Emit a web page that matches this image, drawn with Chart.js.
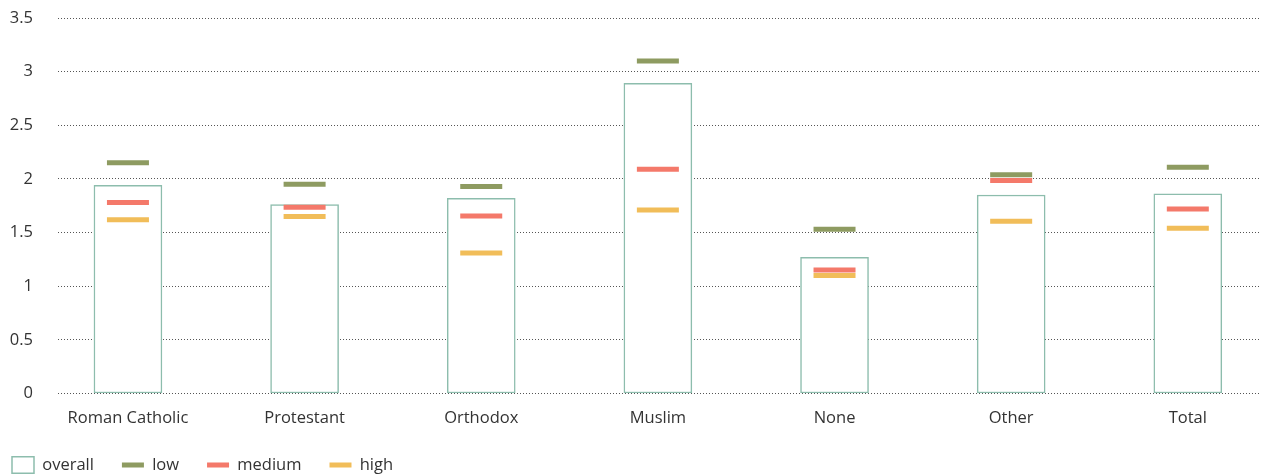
<!DOCTYPE html>
<html>
<head>
<meta charset="utf-8">
<script src="https://cdn.jsdelivr.net/npm/chart.js@4/dist/chart.umd.min.js"></script>
<style>
  html, body { margin: 0; padding: 0; background: #fff; }
  #wrap { width: 1270px; height: 474px; }
</style>
</head>
<body>
<div id="wrap"><canvas id="c" width="1270" height="474"></canvas></div>
<script>
const categories = ['Roman Catholic', 'Protestant', 'Orthodox', 'Muslim', 'None', 'Other', 'Total'];
const overall = [1.94, 1.76, 1.82, 2.89, 1.27, 1.85, 1.86];
const low     = [2.15, 1.95, 1.93, 3.10, 1.53, 2.04, 2.11];
const medium  = [1.78, 1.735, 1.655, 2.09, 1.15, 1.985, 1.72];
const high    = [1.62, 1.65, 1.31, 1.71, 1.10, 1.605, 1.54];
const yTicks  = [0, 0.5, 1, 1.5, 2, 2.5, 3, 3.5];

const FONT = "'Open Sans', 'DejaVu Sans', sans-serif";
const TEXT = '#333333';

const toPts = arr => arr.map((v, i) => ({ x: i, y: v }));

const markerDataset = (label, arr, color) => ({
  type: 'scatter',
  label: label,
  data: toPts(arr),
  pointStyle: 'line',
  pointRadius: 21,
  pointHoverRadius: 21,
  pointBorderWidth: 5,
  pointBorderColor: color,
  pointBackgroundColor: color,
  borderColor: color,
  backgroundColor: color,
  order: 0
});

// places the legend at the bottom-left like the reference
const legendShift = {
  id: 'legendShift',
  afterLayout(chart) {
    const lg = chart.legend;
    if (!lg) return;
    const dx = -16;
    lg.left += dx; lg.right += dx;
    lg.top = 428.75;
    lg.bottom = lg.top + 80;
  }
};

new Chart(document.getElementById('c'), {
  type: 'bar',
  plugins: [legendShift],
  data: {
    datasets: [
      {
        type: 'bar',
        label: 'overall',
        data: toPts(overall),
        backgroundColor: '#ffffff',
        borderColor: '#8dbdad',
        borderWidth: 1.5,
        borderSkipped: false,
        barThickness: 68,
        pointStyle: 'rect',
        order: 1
      },
      markerDataset('low', low, '#8e9b61'),
      markerDataset('medium', medium, '#f4796a'),
      markerDataset('high', high, '#f1bd59')
    ]
  },
  options: {
    responsive: false,
    animation: false,
    layout: { autoPadding: false, padding: { left: 0, right: 11, top: 18, bottom: 0 } },
    plugins: {
      tooltip: { enabled: false },
      legend: {
        position: 'bottom',
        align: 'start',
        maxHeight: 30,
        labels: {
          usePointStyle: true,
          pointStyleWidth: 22,
          padding: 28,
          color: TEXT,
          font: { family: FONT, size: 16.5 },
          sort: (a, b) => a.datasetIndex - b.datasetIndex
        }
      }
    },
    scales: {
      x: {
        type: 'linear',
        offset: false,
        min: -0.396,
        max: 6.403,
        grid: { display: false, drawTicks: false },
        border: { display: false },
        afterBuildTicks: s => { s.ticks = categories.map((_, i) => ({ value: i })); },
        afterFit: s => { s.height = 50.5; s.paddingLeft = 0; s.paddingRight = 0; },
        ticks: {
          autoSkip: false,
          maxRotation: 0,
          padding: 15,
          color: TEXT,
          font: { family: FONT, size: 16.5 },
          callback: v => categories[v]
        }
      },
      y: {
        min: 0,
        max: 3.5,
        afterBuildTicks: s => { s.ticks = yTicks.map(v => ({ value: v })); },
        afterFit: s => { s.width = 58; s.paddingTop = 0; s.paddingBottom = 0; },
        grid: { color: '#555555', lineWidth: 1, drawTicks: false },
        border: { display: false, dash: [1, 2] },
        ticks: {
          padding: 25,
          color: TEXT,
          font: { family: FONT, size: 16.5 },
          callback: v => String(v)
        }
      }
    }
  }
});
</script>
</body>
</html>
